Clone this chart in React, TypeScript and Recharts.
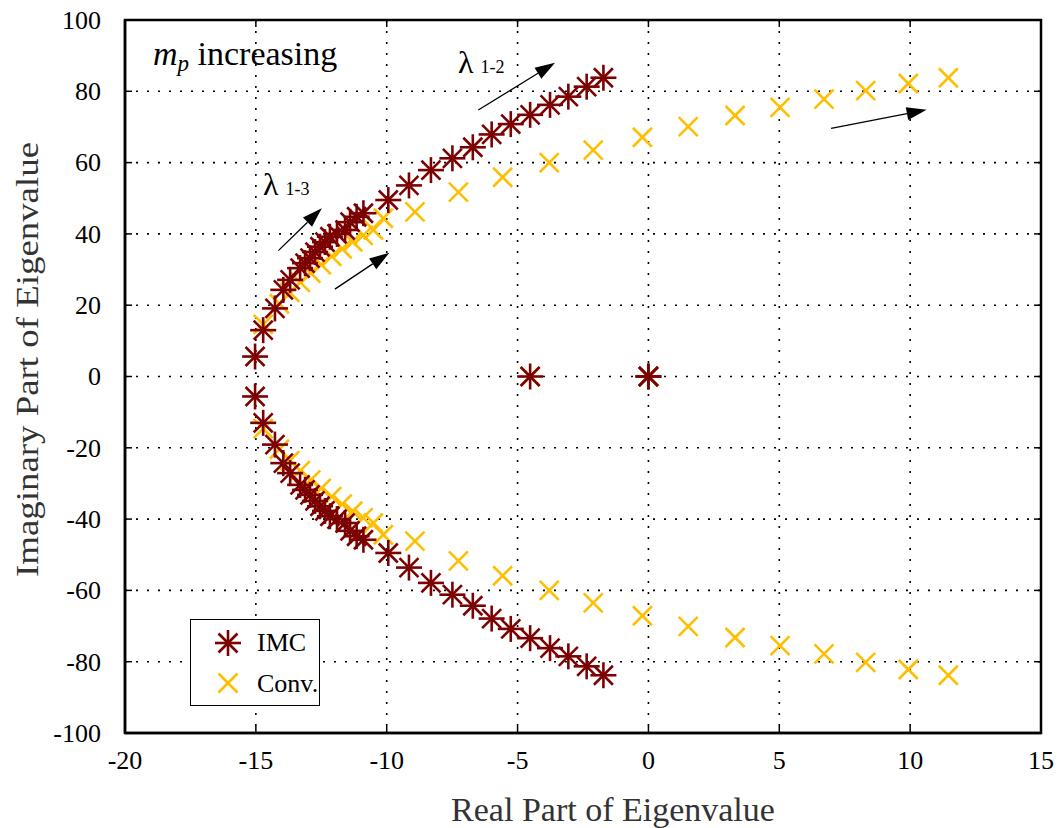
import {
  ScatterChart,
  Scatter,
  XAxis,
  YAxis,
  CartesianGrid,
  ReferenceLine,
  ReferenceDot,
  ReferenceArea,
  Legend
} from 'recharts';

type Pt = { x: number; y: number };

// IMC eigenvalues (upper branch, lower branch, real axis)
const imcUpper: Pt[] = [
  { x: -1.72, y: 83.8 }, { x: -2.36, y: 81.3 }, { x: -3.06, y: 78.5 }, { x: -3.76, y: 76.2 },
  { x: -4.52, y: 73.4 }, { x: -5.26, y: 70.8 }, { x: -5.99, y: 67.9 }, { x: -6.71, y: 64.3 },
  { x: -7.49, y: 61.2 }, { x: -8.31, y: 57.9 }, { x: -9.15, y: 53.6 }, { x: -9.94, y: 49.5 },
  { x: -10.89, y: 45.8 }, { x: -11.15, y: 44.8 }, { x: -11.4, y: 43.3 }, { x: -11.59, y: 41.1 },
  { x: -11.9, y: 40.0 }, { x: -12.17, y: 39.2 }, { x: -12.36, y: 37.7 }, { x: -12.55, y: 36.4 },
  { x: -12.74, y: 34.9 }, { x: -12.93, y: 33.2 }, { x: -13.12, y: 31.8 }, { x: -13.31, y: 30.4 },
  { x: -13.69, y: 27.1 }, { x: -13.95, y: 24.3 }, { x: -14.27, y: 19.1 }, { x: -14.72, y: 13.0 },
  { x: -15.03, y: 5.6 }
];
const imcLower: Pt[] = [
  { x: -1.72, y: -83.8 }, { x: -2.36, y: -81.3 }, { x: -3.06, y: -78.5 }, { x: -3.76, y: -76.2 },
  { x: -4.52, y: -73.4 }, { x: -5.26, y: -70.8 }, { x: -5.99, y: -67.9 }, { x: -6.71, y: -64.3 },
  { x: -7.49, y: -61.2 }, { x: -8.31, y: -57.9 }, { x: -9.15, y: -53.6 }, { x: -9.94, y: -49.5 },
  { x: -10.89, y: -45.8 }, { x: -11.15, y: -44.8 }, { x: -11.4, y: -43.3 }, { x: -11.59, y: -41.1 },
  { x: -11.9, y: -40.0 }, { x: -12.17, y: -39.2 }, { x: -12.36, y: -37.7 }, { x: -12.55, y: -36.4 },
  { x: -12.74, y: -34.9 }, { x: -12.93, y: -33.2 }, { x: -13.12, y: -31.8 }, { x: -13.31, y: -30.4 },
  { x: -13.69, y: -27.1 }, { x: -13.95, y: -24.3 }, { x: -14.27, y: -19.1 }, { x: -14.72, y: -13.0 },
  { x: -15.03, y: -5.6 }
];
const imcReal: Pt[] = [{ x: -4.52, y: 0 }, { x: 0, y: 0 }, { x: 0, y: 0 }];

// conventional controller eigenvalues
const convUpper: Pt[] = [
  { x: 11.46, y: 83.8 }, { x: 9.93, y: 82.2 }, { x: 8.3, y: 80.2 }, { x: 6.71, y: 77.8 },
  { x: 5.03, y: 75.5 }, { x: 3.31, y: 73.2 }, { x: 1.52, y: 70.1 }, { x: -0.23, y: 67.1 },
  { x: -2.11, y: 63.5 }, { x: -3.79, y: 60.0 }, { x: -5.57, y: 55.9 }, { x: -7.26, y: 51.7 },
  { x: -8.92, y: 46.2 }, { x: -10.13, y: 44.4 }, { x: -10.51, y: 41.1 }, { x: -10.9, y: 39.6 },
  { x: -11.3, y: 37.8 }, { x: -11.7, y: 35.8 }, { x: -12.1, y: 33.7 }, { x: -12.5, y: 31.4 },
  { x: -12.9, y: 29.0 }, { x: -13.3, y: 26.4 }, { x: -13.7, y: 23.6 }, { x: -14.1, y: 20.4 },
  { x: -14.72, y: 14.6 }
];
const convLower: Pt[] = [
  { x: 11.46, y: -83.8 }, { x: 9.93, y: -82.2 }, { x: 8.3, y: -80.2 }, { x: 6.71, y: -77.8 },
  { x: 5.03, y: -75.5 }, { x: 3.31, y: -73.2 }, { x: 1.52, y: -70.1 }, { x: -0.23, y: -67.1 },
  { x: -2.11, y: -63.5 }, { x: -3.79, y: -60.0 }, { x: -5.57, y: -55.9 }, { x: -7.26, y: -51.7 },
  { x: -8.92, y: -46.2 }, { x: -10.13, y: -44.4 }, { x: -10.51, y: -41.1 }, { x: -10.9, y: -39.6 },
  { x: -11.3, y: -37.8 }, { x: -11.7, y: -35.8 }, { x: -12.1, y: -33.7 }, { x: -12.5, y: -31.4 },
  { x: -12.9, y: -29.0 }, { x: -13.3, y: -26.4 }, { x: -13.7, y: -23.6 }, { x: -14.1, y: -20.4 },
  { x: -14.72, y: -14.6 }
];
const convReal: Pt[] = [{ x: -4.52, y: 0 }, { x: 0, y: 0 }];

const xTicks = [-20, -15, -10, -5, 0, 5, 10, 15];
const yTicks = [-100, -80, -60, -40, -20, 0, 20, 40, 60, 80, 100];

// arrows: [start, tip]
const arrows: [Pt, Pt][] = [
  [{ x: -6.5, y: 74.75 }, { x: -3.57, y: 88.0 }],
  [{ x: -14.14, y: 35.3 }, { x: -12.48, y: 47.2 }],
  [{ x: -11.98, y: 24.5 }, { x: -9.9, y: 34.7 }],
  [{ x: 6.98, y: 69.6 }, { x: 10.63, y: 74.8 }]
];

const IMC_COLOR = '#7d0000';
const CONV_COLOR = '#ffbf00';
const SERIF = '"Liberation Serif", "Times New Roman", serif';

const W = 1064;
const H = 828;
const TOP = 20;
const RIGHT = 23;
const Y_AXIS_W = 125;
const X_AXIS_H = 95;
const TICK_GAP_X = 36;
const TICK_GAP_Y = 24;

function Asterisk({ cx, cy, s = 1 }: { cx: number; cy: number; s?: number }) {
  const h = 13 * s;
  const d = 9.5 * s;
  return (
    <g stroke={IMC_COLOR} strokeWidth={2.6} strokeLinecap="butt">
      <line x1={cx - h} y1={cy} x2={cx + h} y2={cy} />
      <line x1={cx} y1={cy - h} x2={cx} y2={cy + h} />
      <line x1={cx - d} y1={cy - d} x2={cx + d} y2={cy + d} />
      <line x1={cx - d} y1={cy + d} x2={cx + d} y2={cy - d} />
    </g>
  );
}

function Cross({ cx, cy }: { cx: number; cy: number }) {
  const d = 9.5;
  return (
    <g stroke={CONV_COLOR} strokeWidth={2.6}>
      <line x1={cx - d} y1={cy - d} x2={cx + d} y2={cy + d} />
      <line x1={cx - d} y1={cy + d} x2={cx + d} y2={cy - d} />
    </g>
  );
}

function Arrow(p: any) {
  const { x1, y1, x2, y2 } = p;
  const a = Math.atan2(y2 - y1, x2 - x1);
  const L = 20;
  const hw = 6.5;
  const bx = x2 - L * Math.cos(a);
  const by = y2 - L * Math.sin(a);
  const s = Math.sin(a);
  const c = Math.cos(a);
  return (
    <g>
      <line x1={x1} y1={y1} x2={bx} y2={by} stroke="#000" strokeWidth={1.3} />
      <polygon
        points={`${x2},${y2} ${bx + hw * s},${by - hw * c} ${bx - hw * s},${by + hw * c}`}
        fill="#000"
      />
    </g>
  );
}

function XTick(p: any) {
  const { x, y, payload } = p;
  const axisY = y - TICK_GAP_X;
  return (
    <g>
      <line x1={x} y1={axisY} x2={x} y2={axisY - 7} stroke="#000" strokeWidth={1.5} />
      <line x1={x} y1={TOP} x2={x} y2={TOP + 7} stroke="#000" strokeWidth={1.5} />
      <text x={x} y={y} textAnchor="middle" fontFamily={SERIF} fontSize={26} fill="#000">
        {payload.value}
      </text>
    </g>
  );
}

function YTick(p: any) {
  const { x, y, payload } = p;
  const axisX = x + TICK_GAP_Y;
  return (
    <g>
      <line x1={axisX} y1={y} x2={axisX + 7} y2={y} stroke="#000" strokeWidth={1.5} />
      <line x1={W - RIGHT} y1={y} x2={W - RIGHT - 7} y2={y} stroke="#000" strokeWidth={1.5} />
      <text x={x} y={y} dy="0.34em" textAnchor="end" fontFamily={SERIF} fontSize={26} fill="#000">
        {payload.value}
      </text>
    </g>
  );
}

function YLabel(p: any) {
  const vb = p.viewBox;
  const x = vb.x + 38;
  const y = vb.y + vb.height / 2 - 17;
  return (
    <text
      x={x}
      y={y}
      transform={`rotate(-90 ${x} ${y})`}
      textAnchor="middle"
      fontFamily={SERIF}
      fontSize={31}
      fill="#333"
      textLength={435}
      lengthAdjust="spacingAndGlyphs"
    >
      Imaginary Part of Eigenvalue
    </text>
  );
}

function XLabel(p: any) {
  const vb = p.viewBox;
  const x = vb.x + vb.width / 2 + 30;
  const y = vb.y + vb.height - 7;
  return (
    <text x={x} y={y} textAnchor="middle" fontFamily={SERIF} fontSize={34} fill="#333">
      Real Part of Eigenvalue
    </text>
  );
}

function LegendBox() {
  return (
    <div
      style={{
        width: 130,
        height: 87,
        border: '1.5px solid #000',
        background: '#fff',
        position: 'relative',
        boxSizing: 'border-box'
      }}
    >
      <svg width={130} height={87} style={{ position: 'absolute', left: 0, top: 0 }}>
        <Asterisk cx={37} cy={23} s={1} />
        <Cross cx={37} cy={63} />
        <text x={66} y={31} fontFamily={SERIF} fontSize={26} fill="#000">IMC</text>
        <text x={66} y={72} fontFamily={SERIF} fontSize={26} fill="#000">Conv.</text>
      </svg>
    </div>
  );
}

const textDot = (content: (cx: number, cy: number) => any) => (p: any) => content(p.cx, p.cy);

export default function App() {
  return (
    <div style={{ position: 'absolute', left: 0, top: 0, background: '#fff' }}>
      <ScatterChart width={W} height={H} margin={{ top: TOP, right: RIGHT, bottom: 0, left: 0 }}>
        <CartesianGrid stroke="#000" strokeWidth={1.6} strokeDasharray="2 9" />
        <XAxis
          type="number"
          dataKey="x"
          domain={[-20, 15]}
          ticks={xTicks}
          allowDataOverflow
          height={X_AXIS_H}
          tickSize={0}
          tickMargin={TICK_GAP_X}
          tick={<XTick />}
          axisLine={{ stroke: '#000', strokeWidth: 2.5 }}
          label={<XLabel />}
        />
        <YAxis
          type="number"
          dataKey="y"
          domain={[-100, 100]}
          ticks={yTicks}
          allowDataOverflow
          width={Y_AXIS_W}
          tickSize={0}
          tickMargin={TICK_GAP_Y}
          tick={<YTick />}
          axisLine={{ stroke: '#000', strokeWidth: 2.5 }}
          label={<YLabel />}
        />
        <ReferenceArea
          x1={-20}
          x2={15}
          y1={-100}
          y2={100}
          fill="none"
          fillOpacity={0}
          stroke="#000"
          strokeWidth={2.5}
          ifOverflow="visible"
        />
        <Legend
          layout="vertical"
          align="center"
          verticalAlign="middle"
          content={() => <LegendBox />}
          wrapperStyle={{ left: 190, top: 619, width: 130, height: 87 }}
        />
        <Scatter name="Conv." data={convUpper} isAnimationActive={false} shape={(p: any) => <Cross cx={p.cx} cy={p.cy} />} />
        <Scatter name="Conv. lower" data={convLower} isAnimationActive={false} shape={(p: any) => <Cross cx={p.cx} cy={p.cy} />} />
        <Scatter name="Conv. real" data={convReal} isAnimationActive={false} shape={(p: any) => <Cross cx={p.cx} cy={p.cy} />} />
        <Scatter name="IMC" data={imcUpper} isAnimationActive={false} shape={(p: any) => <Asterisk cx={p.cx} cy={p.cy} />} />
        <Scatter name="IMC lower" data={imcLower} isAnimationActive={false} shape={(p: any) => <Asterisk cx={p.cx} cy={p.cy} />} />
        <Scatter name="IMC real" data={imcReal} isAnimationActive={false} shape={(p: any) => <Asterisk cx={p.cx} cy={p.cy} />} />
        {arrows.map((a, i) => (
          <ReferenceLine key={i} segment={a} ifOverflow="visible" shape={Arrow} />
        ))}
        <ReferenceDot
          x={-18.93}
          y={87.4}
          r={0}
          ifOverflow="visible"
          shape={textDot((cx, cy) => (
            <text x={cx} y={cy} fontFamily={SERIF} fontSize={34} fill="#000">
              <tspan fontStyle="italic">m</tspan>
              <tspan fontStyle="italic" fontSize={23} dy={6}>p</tspan>
              <tspan dy={-6}> increasing</tspan>
            </text>
          ))}
        />
        <ReferenceDot
          x={-7.28}
          y={85.1}
          r={0}
          ifOverflow="visible"
          shape={textDot((cx, cy) => (
            <text x={cx} y={cy} fill="#000" fontFamily={SERIF}>
              <tspan fontSize={32}>λ</tspan>
              <tspan fontSize={18} dx={7}>1-2</tspan>
            </text>
          ))}
        />
        <ReferenceDot
          x={-14.73}
          y={50.9}
          r={0}
          ifOverflow="visible"
          shape={textDot((cx, cy) => (
            <text x={cx} y={cy} fill="#000" fontFamily={SERIF}>
              <tspan fontSize={32}>λ</tspan>
              <tspan fontSize={18} dx={7}>1-3</tspan>
            </text>
          ))}
        />
      </ScatterChart>
    </div>
  );
}
